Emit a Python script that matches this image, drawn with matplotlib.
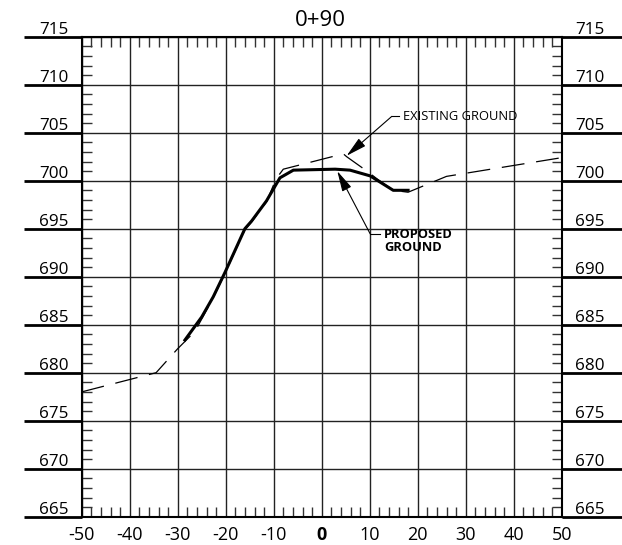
import matplotlib
matplotlib.use("Agg")
import matplotlib.pyplot as plt
from matplotlib.ticker import MultipleLocator
import matplotlib.transforms as mtransforms

plt.rcParams['font.family'] = ['Open Sans', 'DejaVu Sans']
plt.rcParams['lines.scale_dashes'] = False

title = "0+90"
x_ticks = [-50, -40, -30, -20, -10, 0, 10, 20, 30, 40, 50]
x_tick_labels = ["-50", "-40", "-30", "-20", "-10", "0", "10", "20", "30", "40", "50"]
elev_labels = [665, 670, 675, 680, 685, 690, 695, 700, 705, 710, 715]

prop_x = [-28.5, -25.0, -22.6, -20.1, -16.0, -14.6, -11.5, -8.7, -5.9, 2.8, 5.9, 10.1, 14.9, 18.0]
prop_y = [683.4, 685.8, 687.9, 690.5, 695.0, 695.8, 697.9, 700.3, 701.1, 701.2, 701.1, 700.5, 699.0, 699.0]

exist_x = [-50, -34.5, -30.0, -26.4, -22.6, -20.1, -16.0, -14.6, -11.5, -9.5, -8.0, 4.5, 5.2, 9.7, 11.5, 14.9, 18.0, 26.0, 50]
exist_y = [678.0, 680.0, 682.5, 684.3, 687.8, 690.4, 694.9, 695.7, 697.8, 700.2, 701.2, 702.8, 702.5, 700.9, 700.2, 699.0, 698.8, 700.45, 702.4]

fig = plt.figure(figsize=(6.22, 5.45), dpi=100)
ax = fig.add_axes([81.7 / 622, 28.3 / 545, 480 / 622, 480 / 545])
ax.set_xlim(-50, 50)
ax.set_ylim(665, 715)

ax.xaxis.set_major_locator(MultipleLocator(10))
ax.xaxis.set_minor_locator(MultipleLocator(2))
ax.yaxis.set_major_locator(MultipleLocator(5))
ax.yaxis.set_minor_locator(MultipleLocator(1))
ax.grid(True, which='major', color='#222222', lw=1.0)
ax.set_axisbelow(True)

ax.tick_params(which='both', direction='in', top=True, right=True, color='#333333')
ax.tick_params(which='minor', length=7, width=1.0)
ax.tick_params(which='major', length=0, pad=7)
ax.set_xticks(x_ticks)
ax.set_xticklabels(x_tick_labels, fontsize=13)
for lab in ax.get_xticklabels():
    if lab.get_text() == "0":
        lab.set_fontweight('bold')
ax.set_yticklabels([])
for s in ax.spines.values():
    s.set_linewidth(1.5)
    s.set_color('black')

# elevation label extenders and labels
trans = mtransforms.blended_transform_factory(ax.transAxes, ax.transData)
for e in elev_labels:
    ax.plot([-0.121, 0], [e, e], transform=trans, color='black', lw=2.0, clip_on=False, solid_capstyle='butt')
    ax.plot([1.0, 1.125], [e, e], transform=trans, color='black', lw=2.0, clip_on=False, solid_capstyle='butt')
    ax.text(-0.028, e + 0.3, str(e), transform=trans, ha='right', va='baseline', fontsize=12.3)
    ax.text(1.028, e + 0.3, str(e), transform=trans, ha='left', va='baseline', fontsize=12.3)

# ground lines
ax.plot(exist_x, exist_y, color='black', lw=0.9, dashes=(16.5, 8.5), zorder=3)
ax.plot(prop_x, prop_y, color='black', lw=2.2, zorder=4, solid_joinstyle='round')

# annotations (leader: short horizontal + arrow)
arrow_style = '-|>,head_length=0.9,head_width=0.22'
ax.text(17.0, 706.7, "EXISTING GROUND", fontsize=9.3, va='center', ha='left')
ax.plot([16.2, 14.6], [706.7, 706.7], color='black', lw=0.8)
ax.annotate("", xy=(5.2, 702.6), xytext=(14.6, 706.7),
            arrowprops=dict(arrowstyle=arrow_style, color='black', lw=0.8, mutation_scale=14,
                            shrinkA=0, shrinkB=0))
ax.text(13.0, 693.7, "PROPOSED\nGROUND", fontsize=9.3, fontweight='bold', va='center', ha='left', linespacing=1.05)
ax.plot([12.15, 10.06], [694.5, 694.5], color='black', lw=0.8)
ax.annotate("", xy=(3.25, 701.0), xytext=(10.06, 694.5),
            arrowprops=dict(arrowstyle=arrow_style, color='black', lw=0.8, mutation_scale=14,
                            shrinkA=0, shrinkB=0))

fig.text(320.5 / 622, 1 - 20.5 / 545, title, ha='center', va='center', fontsize=16)

fig.savefig("out.png", dpi=100)
